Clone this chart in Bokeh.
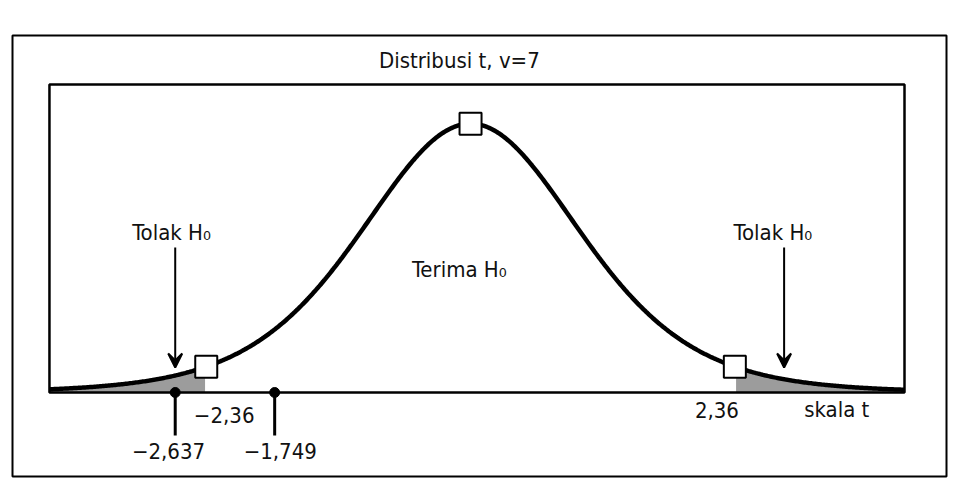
import math
import numpy as np
from bokeh.plotting import figure
from bokeh.models import BoxAnnotation, Arrow, VeeHead, ColumnDataSource
from bokeh.core.properties import value
from bokeh.embed import file_html
from bokeh.resources import INLINE

# ---- data ----
df = 7
title_text = "Distribusi t, v=7"
critical = [-2.36, 2.36]
critical_labels = ["\u22122,36", "2,36"]
marks = [-2.637, -1.749]
mark_labels = ["\u22122,637", "\u22121,749"]
reject_label = "Tolak H\u2080"
accept_label = "Terima H\u2080"
axis_label = "skala t"
reject_arrow_t = [-2.637, 2.80]

t_lo, t_hi = -3.76, 3.875


def t_pdf(t, v):
    c = math.gamma((v + 1) / 2) / (math.sqrt(v * math.pi) * math.gamma(v / 2))
    return c * (1 + np.asarray(t) ** 2 / v) ** (-(v + 1) / 2)


t = np.linspace(t_lo, t_hi, 600)
dens = t_pdf(t, df)
peak = float(t_pdf(0.0, df))
crit_dens = t_pdf(np.array(critical), df)

PX = 0.001432  # y units per pixel
FONT = value("DejaVu Sans Condensed")

p = figure(width=950, height=482, x_range=(-4.09, 4.25), y_range=(-0.1203, 0.5113),
           x_axis_type=None, y_axis_type=None, output_backend="svg",
           toolbar_location=None, min_border_left=12, min_border_right=4,
           min_border_top=35, min_border_bottom=6)
p.grid.visible = False
p.outline_line_color = "black"
p.outline_line_width = 2
p.background_fill_color = "white"

# shaded rejection tails
left = t <= critical[0]
right = t >= critical[1]
p.varea(x=t[left], y1=0, y2=dens[left], fill_color="#9c9c9c")
p.varea(x=t[right], y1=0, y2=dens[right], fill_color="#9c9c9c")

# inner box
p.add_layout(BoxAnnotation(left=t_lo, right=t_hi, bottom=0, top=0.441,
                           fill_alpha=0, line_color="black", line_alpha=1, line_width=2.5))

# curve
p.line(t, dens, line_color="black", line_width=4.5)

# marks below axis
p.segment(x0=marks, y0=[0, 0], x1=marks, y1=[-43 * PX] * 2, line_color="black", line_width=3)
p.scatter(marks, [0, 0], marker="circle", size=10, fill_color="black", line_color="black")

# squares
p.scatter([0.0] + critical, [peak] + list(crit_dens), marker="square", size=22,
          fill_color="white", line_color="black", line_width=2)

# arrows
for xt in reject_arrow_t:
    p.add_layout(Arrow(end=VeeHead(size=14, line_color="black", line_width=2, fill_color="black"),
                       x_start=xt, y_start=145 * PX, x_end=xt, y_end=25 * PX,
                       line_color="black", line_width=2))

# texts
texts = ColumnDataSource(dict(
    x=[-0.1, -0.1, -2.67, 2.7, -2.2, 2.2, 3.27, marks[0] - 0.06, marks[1] + 0.05],
    y=[0.475, 123 * PX, 160 * PX, 160 * PX, -22 * PX, -17 * PX, -17 * PX, -59 * PX, -59 * PX],
    s=[title_text, accept_label, reject_label, reject_label,
       critical_labels[0], critical_labels[1], axis_label, mark_labels[0], mark_labels[1]],
))
p.text(x="x", y="y", text="s", source=texts, text_font=FONT, text_font_size="22px",
       text_align="center", text_baseline="middle", text_color="#111111")

open("out.html", "w").write(file_html(p, INLINE))
